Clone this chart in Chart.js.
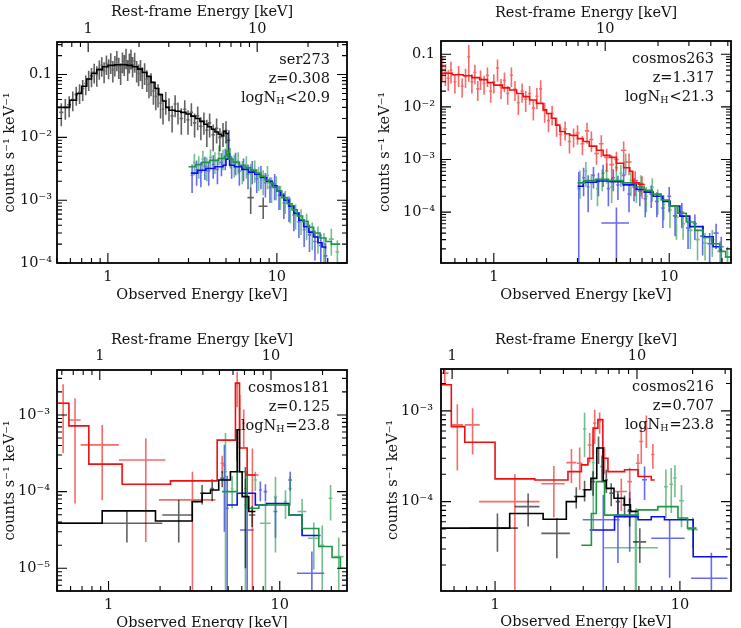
<!DOCTYPE html>
<html>
<head>
<meta charset="utf-8">
<script src="https://cdn.jsdelivr.net/npm/chart.js@4.4.1/dist/chart.umd.min.js"></script>
<style>
  html, body { margin: 0; padding: 0; background: #fff; overflow: hidden; }
  body { width: 741px; height: 628px; position: relative; }
  canvas { position: absolute; }
</style>
</head>
<body>
<canvas id="p1" width="370" height="310" style="left:0px;top:0px"></canvas>
<canvas id="p2" width="371" height="310" style="left:370px;top:0px"></canvas>
<canvas id="p3" width="370" height="330" style="left:0px;top:310px"></canvas>
<canvas id="p4" width="371" height="330" style="left:370px;top:310px"></canvas>
<script>
// source info
const sourceNames = ["ser273", "cosmos263", "cosmos181", "cosmos216"];
const redshifts = [0.308, 1.317, 0.125, 0.707];
const nhSign = ["<", "<", "=", "="];
const nhValue = ["20.9", "21.3", "23.8", "23.8"];

// tick labels
const obsTicks = [1, 10];
const obsLabels = ["1", "10"];
const restTicks = [1, 10];
const restLabels = ["1", "10"];
const p1YTicks = [1e-4, 1e-3, 1e-2, 0.1];
const p1YLabels = ["10⁻⁴", "10⁻³", "10⁻²", "0.1"];
const p2YTicks = [1e-4, 1e-3, 1e-2, 0.1];
const p2YLabels = ["10⁻⁴", "10⁻³", "10⁻²", "0.1"];
const p3YTicks = [1e-5, 1e-4, 1e-3];
const p3YLabels = ["10⁻⁵", "10⁻⁴", "10⁻³"];
const p4YTicks = [1e-4, 1e-3];
const p4YLabels = ["10⁻⁴", "10⁻³"];

// data rows: [energy, half bin width, counts, error]
const p1Black = [
  [0.53,0.015,0.025,0.010],[0.56,0.015,0.030,0.011],[0.59,0.015,0.033,0.012],[0.62,0.015,0.040,0.014],
  [0.65,0.015,0.048,0.016],[0.68,0.015,0.052,0.018],[0.71,0.015,0.060,0.022],[0.74,0.015,0.072,0.025],
  [0.77,0.015,0.085,0.030],[0.80,0.015,0.095,0.032],[0.83,0.015,0.110,0.038],[0.86,0.015,0.100,0.036],
  [0.89,0.015,0.125,0.042],[0.92,0.015,0.140,0.048],[0.95,0.015,0.115,0.042],[0.98,0.015,0.150,0.052],
  [1.01,0.015,0.130,0.046],[1.04,0.015,0.160,0.058],[1.07,0.015,0.120,0.045],[1.10,0.015,0.145,0.052],
  [1.13,0.015,0.175,0.062],[1.16,0.015,0.135,0.050],[1.19,0.015,0.110,0.042],[1.22,0.015,0.165,0.060],
  [1.25,0.015,0.150,0.055],[1.28,0.015,0.190,0.068],[1.31,0.015,0.125,0.046],[1.34,0.015,0.160,0.056],
  [1.37,0.015,0.185,0.065],[1.40,0.020,0.140,0.050],[1.44,0.020,0.165,0.058],[1.48,0.020,0.120,0.045],
  [1.52,0.020,0.105,0.040],[1.56,0.020,0.125,0.046],[1.60,0.020,0.095,0.036],[1.65,0.025,0.110,0.042],
  [1.70,0.025,0.085,0.032],[1.75,0.025,0.070,0.028],[1.80,0.025,0.075,0.030],[1.86,0.030,0.055,0.022],
  [1.92,0.030,0.045,0.018],[1.98,0.030,0.050,0.020],[2.05,0.035,0.035,0.015],[2.12,0.035,0.028,0.012],
  [2.20,0.040,0.038,0.015],[2.30,0.050,0.030,0.012],[2.40,0.050,0.022,0.010],[2.50,0.050,0.034,0.013],
  [2.60,0.050,0.026,0.010],[2.72,0.060,0.020,0.009],[2.85,0.060,0.028,0.011],[2.98,0.060,0.019,0.008],
  [3.12,0.070,0.025,0.010],[3.26,0.070,0.017,0.007],[3.40,0.070,0.022,0.009],[3.55,0.080,0.015,0.006],
  [3.70,0.080,0.018,0.007],[3.85,0.080,0.013,0.006],[4.00,0.090,0.017,0.007],[4.20,0.100,0.011,0.005],
  [4.40,0.100,0.014,0.006],[4.60,0.100,0.010,0.004],[4.80,0.100,0.012,0.005],[5.00,0.100,0.013,0.005],
  [5.20,0.100,0.009,0.004],[7.00,0.300,0.0011,0.0005],[8.30,0.500,0.0008,0.0003]
];
const p1Green = [
  [3.25,0.06,0.0040,0.0015],[3.45,0.06,0.0036,0.0014],[3.65,0.07,0.0045,0.0016],[3.85,0.07,0.0034,0.0014],
  [4.05,0.08,0.0048,0.0017],[4.30,0.08,0.0042,0.0016],[4.55,0.09,0.0055,0.0019],[4.80,0.09,0.0047,0.0017],
  [5.05,0.09,0.0085,0.0030],[5.30,0.10,0.0050,0.0018],[5.60,0.10,0.0038,0.0015],[5.90,0.11,0.0042,0.0016],
  [6.25,0.12,0.0030,0.0012],[6.60,0.12,0.0036,0.0014],[7.00,0.13,0.0027,0.0011],[7.40,0.14,0.0031,0.0012],
  [7.80,0.15,0.0024,0.0010],[8.30,0.16,0.0021,0.0009],[8.80,0.17,0.0025,0.0010],[9.30,0.18,0.0016,0.0007],
  [9.90,0.20,0.0017,0.0007],[10.5,0.20,0.0012,0.0005],[11.2,0.22,0.0010,0.0004],[12.0,0.25,0.00075,0.00032],
  [12.9,0.30,0.00060,0.00026],[13.9,0.30,0.00050,0.00022],[15.0,0.35,0.00042,0.00019],[16.2,0.40,0.00030,0.00014],
  [17.5,0.45,0.00026,0.00012],[19.0,0.50,0.00020,0.00010],[21.0,0.70,0.00024,0.00011],[22.8,0.60,0.00015,0.00008]
];
const p1Blue = [
  [3.15,0.06,0.0025,0.0012],[3.35,0.06,0.0030,0.0013],[3.55,0.07,0.0028,0.0012],[3.75,0.07,0.0035,0.0014],
  [3.95,0.08,0.0029,0.0012],[4.20,0.08,0.0037,0.0015],[4.45,0.09,0.0031,0.0013],[4.70,0.09,0.0040,0.0016],
  [4.95,0.09,0.0048,0.0018],[5.15,0.09,0.0090,0.0030],[5.40,0.10,0.0036,0.0014],[5.70,0.10,0.0041,0.0016],
  [6.00,0.11,0.0029,0.0012],[6.35,0.12,0.0033,0.0013],[6.75,0.12,0.0026,0.0011],[7.15,0.13,0.0030,0.0012],
  [7.60,0.14,0.0022,0.0009],[8.05,0.15,0.0025,0.0010],[8.55,0.16,0.0019,0.0008],[9.10,0.17,0.0016,0.0007],
  [9.70,0.18,0.0018,0.0008],[10.3,0.20,0.0012,0.0005],[11.0,0.20,0.0009,0.0004],[11.8,0.22,0.00080,0.00035],
  [12.6,0.25,0.00058,0.00026],[13.5,0.30,0.00045,0.00020],[14.5,0.30,0.00034,0.00016],[15.6,0.35,0.00028,0.00013],
  [16.8,0.40,0.00022,0.00011],[18.2,0.45,0.00019,0.00010],[19.4,0.50,0.00013,0.00008]
];
const p2Red = [
  [0.51,0.010,0.060,0.030],[0.53,0.010,0.045,0.020],[0.55,0.010,0.035,0.015],[0.57,0.010,0.050,0.022],
  [0.60,0.012,0.030,0.012],[0.63,0.012,0.042,0.018],[0.66,0.013,0.025,0.010],[0.69,0.013,0.038,0.015],
  [0.72,0.014,0.090,0.060],[0.75,0.015,0.030,0.012],[0.78,0.015,0.045,0.018],[0.81,0.016,0.022,0.009],
  [0.84,0.016,0.035,0.014],[0.88,0.017,0.028,0.011],[0.92,0.018,0.040,0.016],[0.96,0.019,0.020,0.008],
  [1.00,0.020,0.030,0.012],[1.05,0.020,0.055,0.025],[1.10,0.022,0.024,0.010],[1.15,0.022,0.032,0.013],
  [1.20,0.024,0.018,0.007],[1.26,0.025,0.040,0.016],[1.32,0.026,0.022,0.009],[1.38,0.027,0.012,0.005],
  [1.45,0.028,0.020,0.008],[1.52,0.030,0.014,0.006],[1.60,0.032,0.018,0.007],[1.68,0.034,0.0095,0.004],
  [1.76,0.035,0.016,0.007],[1.85,0.037,0.022,0.010],[1.95,0.040,0.0085,0.0035],[2.05,0.040,0.0055,0.0022],
  [2.15,0.045,0.0075,0.003],[2.28,0.050,0.0045,0.0018],[2.40,0.050,0.0030,0.0012],[2.55,0.060,0.0038,0.0015],
  [2.70,0.060,0.0022,0.0009],[2.85,0.070,0.0028,0.0011],[3.00,0.080,0.0032,0.0013],[3.20,0.080,0.0020,0.0008],
  [3.40,0.100,0.0035,0.0015],[3.60,0.100,0.0024,0.0010],[3.85,0.120,0.0013,0.0005],[4.10,0.120,0.0020,0.0009],
  [4.40,0.150,0.0011,0.0005],[4.70,0.150,0.0008,0.0004],[5.00,0.150,0.0010,0.0004],[5.50,0.200,0.0015,0.0007],
  [5.90,0.200,0.0009,0.0004],[6.40,0.250,0.0004,0.0002],[7.00,0.300,0.00033,0.00015]
];
const p2Green = [
  [3.10,0.05,0.00040,0.00022],[3.35,0.06,0.00060,0.00030],[3.60,0.07,0.00035,0.00018],[3.90,0.08,0.00028,0.00015],
  [4.15,0.08,0.00045,0.00020],[4.40,0.09,0.00060,0.00025],[4.70,0.10,0.00030,0.00015],[5.00,0.10,0.00070,0.00030],
  [5.30,0.10,0.00055,0.00025],[5.65,0.12,0.00090,0.00040],[6.05,0.12,0.00040,0.00020],[6.50,0.15,0.00028,0.00013],
  [6.90,0.15,0.00035,0.00015],[7.40,0.16,0.00020,0.00010],[8.00,0.18,0.00030,0.00014],[8.60,0.20,0.00018,0.00009],
  [9.30,0.20,0.00014,0.00007],[10.1,0.25,0.00011,0.00006],[11.0,0.30,0.00008,0.00005],[12.0,0.30,0.00006,0.00003],
  [13.2,0.40,0.000045,0.000025],[14.5,0.40,0.00003,0.000018],[16.0,0.50,0.000026,0.000014],[17.6,0.50,0.00003,0.000016],
  [19.5,0.70,0.000018,0.00001],[21.5,0.80,0.000014,0.000008]
];
const p2Blue = [
  [3.05,0.05,0.00028,0.00030],[3.25,0.06,0.00045,0.00025],[3.45,0.06,0.00030,0.00020],[3.70,0.07,0.00050,0.00022],
  [3.95,0.08,0.00038,0.00018],[4.20,0.08,0.00055,0.00025],[4.50,0.09,0.00028,0.00015],[4.80,0.10,0.00045,0.00020],
  [5.10,0.10,0.00033,0.00016],[5.50,0.12,0.00050,0.00025],[5.90,0.12,0.00022,0.00012],[6.30,0.15,0.00030,0.00014],
  [5.00,0.90,0.000062,0.00006],[6.80,0.15,0.00025,0.00012],[7.30,0.16,0.00018,0.00010],[7.90,0.18,0.00022,0.00010],
  [8.50,0.20,0.00016,0.00008],[9.20,0.20,0.00012,0.00007],[10.0,0.25,0.00020,0.00010],[10.8,0.30,0.000085,0.00005],
  [11.8,0.30,0.00010,0.00005],[12.8,0.35,0.00005,0.00003],[14.0,0.40,0.00006,0.00003],[15.5,0.50,0.000035,0.00002],
  [17.0,0.50,0.000025,0.000015],[18.5,0.60,0.00004,0.00002],[19.8,0.60,0.000022,0.000012]
];
const p3Red = [
  [0.543,0.043,1.42e-3,1.1e-3],[0.637,0.050,8.6e-4,7.9e-4],[0.918,0.231,4.07e-4,3.3e-4],[1.65,0.50,2.59e-4,2.37e-4],
  [3.09,1.12,7.8e-5,1.04e-4],[4.61,0.10,2.34e-4,6e-5],[5.64,0.08,2.46e-3,1.2e-3],[5.84,0.08,1.22e-3,6e-4],
  [6.16,0.10,7.8e-4,4e-4],[6.92,0.62,1.65e-4,2.0e-4]
];
const p3Black = [
  [1.28,0.78,3.87e-5,1.7e-5],[2.57,0.51,4.96e-5,2.8e-5],[3.52,0.10,9.5e-5,2.7e-5],[4.03,0.10,1.1e-4,3.5e-5],
  [4.61,0.12,1.49e-4,3.5e-5],[5.64,0.06,4.5e-4,2.0e-4],[6.30,0.10,1.1e-4,1.0e-4],[6.90,0.30,4.96e-5,1.5e-5]
];
const p3Green = [
  [4.82,0.10,1.82e-4,4.0e-4],[5.27,0.10,1.1e-4,5e-5],[6.30,0.12,6.7e-5,8e-5],[7.20,0.15,1.42e-4,4e-5],
  [8.25,0.60,3.87e-5,3.5e-5],[9.44,0.20,8.6e-5,7e-5],[10.8,0.25,7.4e-5,3e-5],[11.5,0.25,1.1e-4,4.5e-5],
  [13.5,0.80,5.5e-5,2.5e-5],[15.8,1.20,2.46e-5,1.5e-5],[17.7,0.50,2.0e-5,1.6e-5],[19.8,0.50,8.2e-5,4e-5],
  [22.1,1.50,1.42e-5,1.1e-5]
];
const p3Blue = [
  [4.93,0.10,6.07e-5,1.0e-4],[4.75,0.08,2.2e-4,1.9e-4],[6.45,0.60,3.16e-5,6.8e-5],[7.70,0.15,1.05e-4,3e-5],
  [8.25,0.20,1.0e-4,2.5e-5],[9.44,0.25,5.5e-5,3e-5],[11.5,0.30,1.42e-4,4e-5],[15.4,2.80,8.6e-6,8e-6]
];
const p4Red = [
  [0.535,0.025,2.6e-3,6e-4],[0.625,0.045,7.0e-4,4.8e-4],[0.756,0.070,7.0e-4,3.7e-4],[1.28,0.46,1.0e-4,1.0e-4],
  [2.08,0.30,1.57e-4,9e-5],[2.59,0.16,2.69e-4,1.1e-4],[2.87,0.10,2.65e-4,1.3e-4],[3.25,0.08,4.2e-4,1.5e-4],
  [3.46,0.07,7.3e-4,3e-4],[3.68,0.07,7.6e-4,2e-4],[3.91,0.08,3.0e-4,1.0e-4],[4.82,0.35,1.29e-4,5e-5],
  [5.35,0.15,1.66e-4,7e-5],[5.93,0.15,2.65e-4,7e-5],[6.18,0.15,4.6e-4,2e-4],[6.58,0.15,6.4e-4,2.5e-4],
  [7.14,0.15,3.3e-4,1e-4]
];
const p4Black = [
  [1.03,0.30,5.1e-5,2.3e-5],[1.51,0.23,8.8e-5,3.5e-5],[2.16,0.38,4.47e-5,2.1e-5],[2.75,0.08,1.14e-4,3e-5],
  [3.05,0.08,1.35e-4,3.5e-5],[3.39,0.08,1.66e-4,5e-5],[3.63,0.07,3.9e-4,1.3e-4],[3.79,0.07,2.43e-4,8e-5],
  [4.00,0.08,1.74e-4,5e-5],[4.25,0.10,1.24e-4,3.5e-5],[4.62,0.12,1.0e-4,2.8e-5],[5.02,0.12,9.2e-5,2.5e-5],
  [5.35,0.12,8.1e-5,2.8e-5],[6.07,0.50,3.6e-5,1.5e-5]
];
const p4Green = [
  [3.05,0.06,6.3e-4,3.2e-4],[3.40,0.06,2.7e-4,2.2e-4],[5.75,1.85,3.1e-5,5e-5],[5.80,0.08,4.0e-5,4.5e-5],
  [8.40,0.20,1.46e-4,8e-5],[8.98,0.20,1.55e-4,8e-5],[9.40,0.20,1.82e-4,7e-5],[10.2,0.30,1.02e-4,5e-5],
  [11.75,0.75,4.9e-5,1.8e-5]
];
const p4Blue = [
  [3.85,0.87,6.3e-5,5.5e-5],[4.62,0.20,7.1e-5,5e-5],[5.35,0.15,7.8e-5,5e-5],[6.44,0.20,1.74e-4,7e-5],
  [8.80,1.80,3.95e-5,2.5e-5],[14.8,3.30,1.43e-5,1.3e-5]
];

// folded models: [bin start energy, counts], last entry closes the final bin
const p1BlackModel = [[0.50,0.030],[0.595,0.039],[0.652,0.050],[0.70,0.065],[0.75,0.085],[0.80,0.105],[0.86,0.120],
  [0.93,0.133],[1.00,0.140],[1.10,0.143],[1.20,0.143],[1.30,0.140],[1.40,0.133],[1.50,0.122],[1.60,0.108],
  [1.70,0.093],[1.80,0.075],[1.90,0.060],[2.00,0.048],[2.10,0.038],[2.20,0.030],[2.30,0.027],[2.50,0.026],
  [2.70,0.025],[2.90,0.0235],[3.10,0.0218],[3.30,0.020],[3.50,0.018],[3.70,0.0162],[3.90,0.0148],[4.10,0.0135],
  [4.30,0.0122],[4.50,0.0112],[4.70,0.0105],[4.85,0.0125],[5.00,0.0115],[5.20,0.0115]];
const p1GreenModel = [[3.0,0.0034],[3.3,0.0037],[3.6,0.0040],[4.0,0.0043],[4.5,0.0046],[4.9,0.0050],[5.05,0.0060],
  [5.2,0.0045],[5.5,0.0040],[6.0,0.0036],[6.5,0.0033],[7.0,0.0030],[7.5,0.0027],[8.0,0.0024],[8.5,0.0021],
  [9.0,0.0019],[9.5,0.0016],[10.0,0.0014],[10.7,0.0011],[11.5,0.00088],[12.3,0.00070],[13.2,0.00056],
  [14.2,0.00046],[15.3,0.00037],[16.5,0.00030],[18.0,0.00025],[19.5,0.00022],[21.0,0.00020],[23.7,0.00020]];
const p1BlueModel = [[3.1,0.0027],[3.4,0.0030],[3.8,0.0032],[4.3,0.0034],[4.8,0.0036],[5.0,0.0045],[5.15,0.0055],
  [5.25,0.0036],[5.6,0.0034],[6.2,0.0031],[6.8,0.0028],[7.4,0.0026],[8.0,0.0023],[8.7,0.0020],[9.4,0.0017],
  [10.0,0.0014],[10.5,0.0012],[11.0,0.0010],[11.8,0.00080],[12.6,0.00062],[13.5,0.00048],[14.4,0.00038],
  [15.4,0.00031],[16.5,0.00026],[17.5,0.00021],[18.5,0.00018],[19.4,0.00017]];
const p2RedModel = [[0.50,0.0435],[0.58,0.041],[0.67,0.039],[0.75,0.036],[0.83,0.033],[0.92,0.029],[1.00,0.026],
  [1.12,0.023],[1.23,0.021],[1.35,0.018],[1.47,0.0157],[1.60,0.0135],[1.75,0.0117],[1.91,0.0088],[2.00,0.0075],
  [2.13,0.0061],[2.25,0.0045],[2.38,0.0034],[2.55,0.0031],[2.71,0.0029],[3.00,0.0025],[3.23,0.0022],[3.50,0.0018],
  [3.85,0.0015],[4.20,0.0012],[4.59,0.0011],[5.00,0.00085],[5.50,0.00070],[5.96,0.00060],[6.20,0.00036],
  [6.70,0.00034],[7.20,0.00034]];
const p2GreenModel = [[3.0,0.00036],[3.3,0.00040],[3.8,0.00042],[4.5,0.00040],[5.4,0.00036],[6.4,0.00030],
  [7.2,0.00026],[8.0,0.00022],[9.0,0.00017],[10.0,0.00013],[11.2,0.000095],[12.5,0.000065],[14.0,0.000045],
  [15.6,0.000033],[17.5,0.000025],[19.4,0.000018],[21.0,0.000014],[22.5,0.000014]];
const p2BlueModel = [[3.0,0.00031],[3.23,0.00037],[3.85,0.00039],[4.6,0.00038],[5.46,0.00033],[6.5,0.00027],
  [7.2,0.00024],[8.1,0.00020],[9.2,0.00016],[10.1,0.00013],[11.5,0.000084],[13.1,0.000053],[15.6,0.000034],
  [17.8,0.000022],[19.4,0.000019],[20.0,0.000019]];
const p3RedModel = [[0.50,1.42e-3],[0.587,7.2e-4],[0.767,2.28e-4],[1.20,1.25e-4],[2.30,1.38e-4],[4.31,4.7e-4],
  [5.51,2.6e-3],[5.82,3.7e-4],[6.45,1.65e-4],[7.2,1.65e-4]];
const p3BlackModel = [[0.50,3.87e-5],[0.918,5.6e-5],[1.88,4.14e-5],[3.08,7.4e-5],[3.52,9.5e-5],[3.94,1.05e-4],
  [4.40,1.42e-4],[5.15,1.82e-4],[5.64,6.4e-4],[5.82,1.82e-4],[6.03,8.6e-5],[6.59,5.5e-5],[7.21,5.5e-5]];
const p3GreenModel = [[4.6,1.0e-4],[5.64,1.82e-4],[6.45,6.07e-5],[7.55,6.7e-5],[11.3,4.96e-5],[13.5,3.3e-5],
  [16.9,1.92e-5],[20.2,1.38e-5],[22.6,1.0e-5],[24.7,1.0e-5]];
const p3BlueModel = [[4.93,6.7e-5],[5.64,9.5e-5],[7.2,6.7e-5],[8.4,7.0e-5],[11.3,4.96e-5],[13.5,2.67e-5],[17.3,2.67e-5]];
const p4RedModel = [[0.51,1.94e-3],[0.58,6.7e-4],[0.686,4.5e-4],[1.0,1.78e-4],[1.64,1.73e-4],[2.48,2.14e-4],
  [2.93,2.54e-4],[3.18,3.0e-4],[3.39,6.45e-4],[3.6,8.0e-4],[3.83,3.0e-4],[4.08,2.14e-4],[5.02,2.24e-4],
  [5.94,1.89e-4],[7.0,1.73e-4],[7.3,1.73e-4]];
const p4BlackModel = [[0.51,5.1e-5],[1.2,7.4e-5],[1.82,6.4e-5],[2.43,1.0e-4],[2.75,1.14e-4],[3.05,1.35e-4],
  [3.3,1.8e-4],[3.55,3.9e-4],[3.85,1.7e-4],[4.0,1.4e-4],[4.4,1.09e-4],[5.0,9.2e-5],[5.4,7.8e-5],[5.9,7.8e-5]];
const p4GreenModel = [[2.93,3.3e-5],[3.32,7.4e-5],[3.53,1.66e-4],[3.91,7.1e-5],[5.94,8.1e-5],[7.6,8.8e-5],
  [9.76,6.6e-5],[11.0,5.1e-5],[12.3,5.1e-5]];
const p4BlueModel = [[3.25,4.87e-5],[4.43,6.8e-5],[5.94,6.3e-5],[7.0,6.8e-5],[8.25,6.3e-5],[11.8,2.47e-5],[18.1,2.47e-5]];

const COLORS = {
  black: "0,0,0",
  red: "240,15,15",
  green: "30,150,70",
  blue: "10,15,235"
};

Chart.defaults.font.family = "'DejaVu Serif', serif";
Chart.defaults.font.size = 14.5;
Chart.defaults.color = "#111";

const panels = [
  { id: "p1", idx: 0, xMin: 0.5, xMax: 26, yMin: 1e-4, yMax: 0.33, yTicks: p1YTicks, yLabels: p1YLabels,
    series: [["black", p1Black, p1BlackModel], ["green", p1Green, p1GreenModel], ["blue", p1Blue, p1BlueModel]],
    box: { left: 57, top: 42, bottom: 47, right: 23, yPad: 5, yTitle: 1.5, topPad: 4, topTitle: 4, botPad: 6, botTitle: 6.5 } },
  { id: "p2", idx: 1, xMin: 0.5, xMax: 22.5, yMin: 1.08e-5, yMax: 0.179, yTicks: p2YTicks, yLabels: p2YLabels,
    series: [["red", p2Red, p2RedModel], ["green", p2Green, p2GreenModel], ["blue", p2Blue, p2BlueModel]],
    box: { left: 71, top: 41, bottom: 47, right: 10, yPad: 6, yTitle: 6.5, topPad: 3.3, topTitle: 4.3, botPad: 6, botTitle: 6.5 } },
  { id: "p3", idx: 2, xMin: 0.5, xMax: 24.7, yMin: 5.05e-6, yMax: 3.86e-3, yTicks: p3YTicks, yLabels: p3YLabels,
    series: [["black", p3Black, p3BlackModel], ["red", p3Red, p3RedModel], ["green", p3Green, p3GreenModel], ["blue", p3Blue, p3BlueModel]],
    box: { left: 57, top: 60, bottom: 49, right: 23, yPad: 7, yTitle: 1.5, topPad: 5, topTitle: 21.6, botPad: 5.6, botTitle: 8.3 } },
  { id: "p4", idx: 3, xMin: 0.51, xMax: 18.9, yMin: 1.035e-5, yMax: 2.89e-3, yTicks: p4YTicks, yLabels: p4YLabels,
    series: [["black", p4Black, p4BlackModel], ["red", p4Red, p4RedModel], ["green", p4Green, p4GreenModel], ["blue", p4Blue, p4BlueModel]],
    box: { left: 71, top: 59, bottom: 49, right: 10, yPad: 8, yTitle: 14.6, topPad: 4.2, topTitle: 21.6, botPad: 5.6, botTitle: 8.6 } }
];

// error crosses as broken line segments
function crossPoints(rows, floor) {
  const pts = [];
  for (const [e, de, f, df] of rows) {
    pts.push({ x: e - de, y: f }, { x: e + de, y: f }, { x: e, y: null });
    pts.push({ x: e, y: Math.max(f - df, floor) }, { x: e, y: f + df }, { x: e, y: null });
  }
  return pts;
}

function logSteps(min, max) {
  const out = [];
  for (let k = Math.floor(Math.log10(min)); k <= Math.ceil(Math.log10(max)); k++) {
    for (let m = 1; m <= 9; m++) {
      const v = m * Math.pow(10, k);
      if (v >= min * 0.9999 && v <= max * 1.0001) out.push([v, m === 1]);
    }
  }
  return out;
}

function pickTicks(values) {
  return scale => {
    scale.ticks = values
      .filter(v => v >= scale.min * 0.999 && v <= scale.max * 1.001)
      .map(v => ({ value: v }));
  };
}

const framePlugin = {
  id: "frame",
  afterDatasetsDraw(chart) {
    const { ctx, chartArea: a, scales } = chart;
    const p = chart.options.plugins.frame.panel;
    ctx.save();
    ctx.strokeStyle = "#000";
    ctx.lineWidth = 1.1;
    ctx.beginPath();
    logSteps(scales.x.min, scales.x.max).forEach(([v, major]) => {
      const px = scales.x.getPixelForValue(v), len = major ? 10 : 5;
      ctx.moveTo(px, a.bottom); ctx.lineTo(px, a.bottom - len);
    });
    logSteps(scales.x2.min, scales.x2.max).forEach(([v, major]) => {
      const px = scales.x2.getPixelForValue(v), len = major ? 10 : 5;
      ctx.moveTo(px, a.top); ctx.lineTo(px, a.top + len);
    });
    logSteps(scales.y.min, scales.y.max).forEach(([v, major]) => {
      const py = scales.y.getPixelForValue(v), len = major ? 10 : 5;
      ctx.moveTo(a.left, py); ctx.lineTo(a.left + len, py);
      ctx.moveTo(a.right, py); ctx.lineTo(a.right - len, py);
    });
    ctx.stroke();
    ctx.lineWidth = 1.8;
    ctx.strokeRect(a.left, a.top, a.right - a.left, a.bottom - a.top);

    // source annotation
    const i = p.idx;
    const rx = a.right - 17;
    ctx.fillStyle = "#111";
    ctx.textAlign = "right";
    ctx.textBaseline = "middle";
    ctx.font = "14.5px 'DejaVu Serif', serif";
    ctx.fillText(sourceNames[i], rx, a.top + 18);
    ctx.fillText("z=" + redshifts[i].toFixed(3), rx, a.top + 37);
    const tail = nhSign[i] + nhValue[i];
    const wTail = ctx.measureText(tail).width;
    ctx.fillText(tail, rx, a.top + 56);
    ctx.font = "9.5px 'DejaVu Serif', serif";
    const wSub = ctx.measureText("H").width;
    ctx.fillText("H", rx - wTail - 1, a.top + 60);
    ctx.font = "14.5px 'DejaVu Serif', serif";
    ctx.fillText("logN", rx - wTail - wSub - 1, a.top + 56);
    ctx.restore();
  }
};

panels.forEach(p => {
  const b = p.box;
  const z = redshifts[p.idx];
  const floor = p.yMin / 20;
  const datasets = [];
  p.series.forEach(([color, rows, model]) => {
    datasets.push({
      data: crossPoints(rows, floor),
      borderColor: `rgba(${COLORS[color]},0.62)`,
      borderWidth: 1.6,
      showLine: true, spanGaps: false, pointRadius: 0, order: 1
    });
    datasets.push({
      data: model.map(([x, y]) => ({ x, y })),
      borderColor: `rgba(${COLORS[color]},1)`,
      borderWidth: 1.6,
      showLine: true, stepped: true, pointRadius: 0, order: 0
    });
  });

  new Chart(document.getElementById(p.id), {
    type: "scatter",
    data: { datasets },
    plugins: [framePlugin],
    options: {
      responsive: false,
      animation: false,
      devicePixelRatio: 1,
      layout: { padding: { left: 0, top: 0, bottom: 0, right: b.right } },
      plugins: { legend: { display: false }, tooltip: { enabled: false }, frame: { panel: p } },
      scales: {
        x: {
          type: "logarithmic", position: "bottom", min: p.xMin, max: p.xMax,
          grid: { display: false, drawTicks: false }, border: { display: false },
          afterBuildTicks: pickTicks(obsTicks),
          afterFit: s => { s.height = b.bottom; },
          ticks: { autoSkip: false, maxRotation: 0, padding: b.botPad,
                   callback: v => obsLabels[obsTicks.indexOf(v)] },
          title: { display: true, text: "Observed Energy [keV]", padding: { top: 0, bottom: b.botTitle } }
        },
        x2: {
          type: "logarithmic", position: "top", axis: "x",
          min: p.xMin * (1 + z), max: p.xMax * (1 + z),
          grid: { display: false, drawTicks: false }, border: { display: false },
          afterBuildTicks: pickTicks(restTicks),
          afterFit: s => { s.height = b.top; },
          ticks: { autoSkip: false, maxRotation: 0, padding: b.topPad,
                   callback: v => restLabels[restTicks.indexOf(v)] },
          title: { display: true, text: "Rest-frame Energy [keV]", padding: { top: b.topTitle, bottom: 0 } }
        },
        y: {
          type: "logarithmic", position: "left", min: p.yMin, max: p.yMax,
          grid: { display: false, drawTicks: false }, border: { display: false },
          afterBuildTicks: pickTicks(p.yTicks),
          afterFit: s => { s.width = b.left; },
          ticks: { autoSkip: false, padding: b.yPad,
                   callback: v => p.yLabels[p.yTicks.indexOf(v)] },
          title: { display: true, text: "counts s⁻¹ keV⁻¹", padding: { top: b.yTitle, bottom: 0 } }
        }
      }
    }
  });
});
</script>
</body>
</html>
